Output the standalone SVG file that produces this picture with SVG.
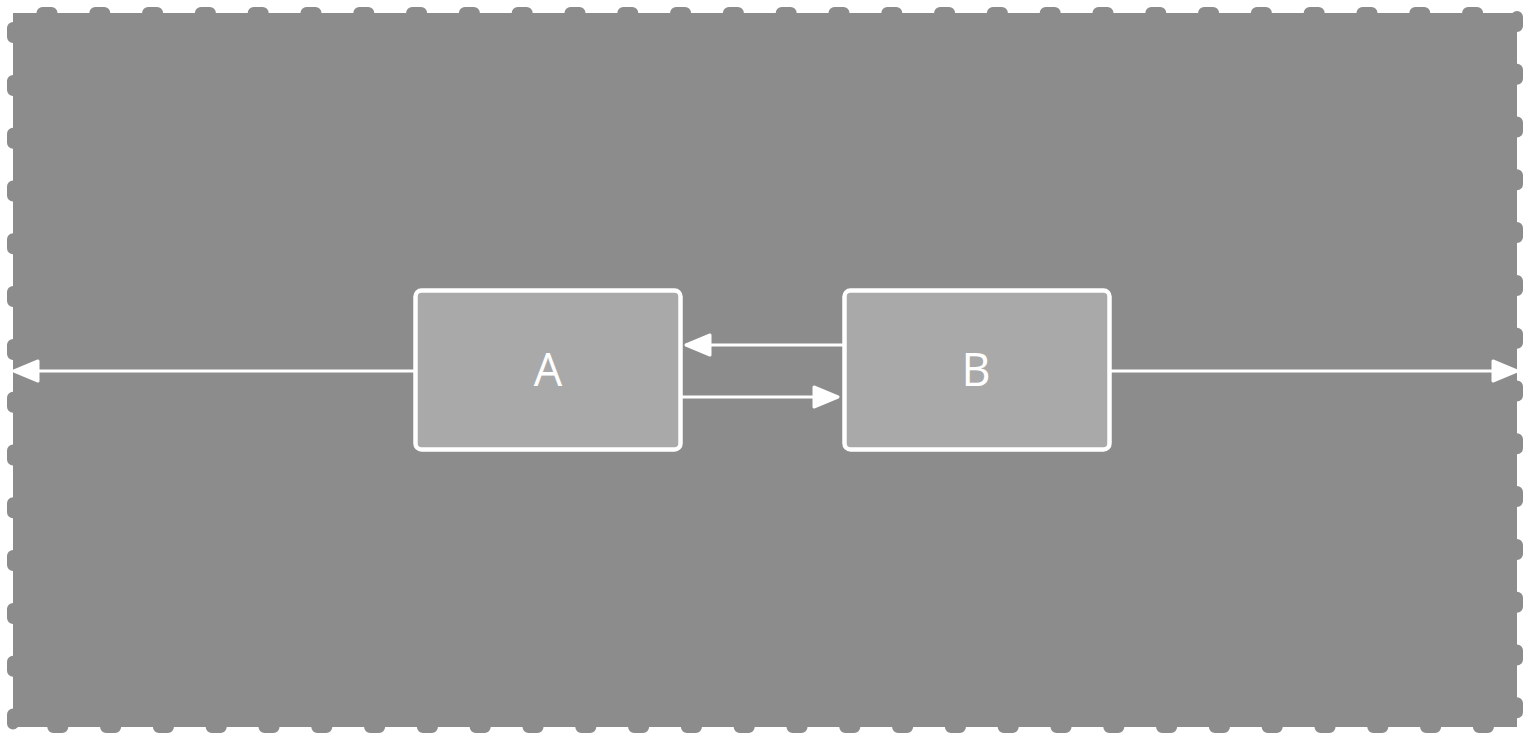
<svg xmlns="http://www.w3.org/2000/svg" width="1530" height="739" viewBox="0 0 1530 739">
  <style>
    .frame { fill: #8c8c8c; stroke: #8c8c8c; stroke-width: 12; stroke-dasharray: 9 43.8; stroke-dashoffset: 23.3; stroke-linecap: round; stroke-linejoin: round; }
    .node rect { fill: #a9a9a9; stroke: #ffffff; stroke-width: 4.5; }
    .node text { fill: #ffffff; font-family: "Open Sans", "Liberation Sans", sans-serif; font-size: 45px; font-weight: 500; text-anchor: middle; }
    .edge { stroke: #ffffff; stroke-width: 3; fill: none; marker-end: url(#arrow); }
    .head { fill: #ffffff; stroke: #ffffff; stroke-width: 3; stroke-linejoin: round; }
  </style>
  <defs>
    <marker id="arrow" markerUnits="userSpaceOnUse" viewBox="0 0 28 24" refX="26" refY="12" markerWidth="28" markerHeight="24" orient="auto" overflow="visible">
      <path class="head" d="M2,2 L26,12 L2,22 Z"/>
    </marker>
  </defs>
  <rect width="1530" height="739" fill="#ffffff"/>
  <rect class="frame" x="13" y="13" width="1504" height="714"/>
  <g id="connectors">
    <line class="edge" x1="415" y1="371" x2="14" y2="371"/>
    <line class="edge" x1="1110" y1="371" x2="1517" y2="371"/>
    <line class="edge" x1="845" y1="345" x2="686" y2="345"/>
    <line class="edge" x1="680" y1="397" x2="838" y2="397"/>
  </g>
  <g id="node-A" class="node">
    <rect x="415.5" y="290.5" width="265" height="159" rx="6"/>
    <text x="548" y="386">A</text>
  </g>
  <g id="node-B" class="node">
    <rect x="844.5" y="290.5" width="265" height="159" rx="6"/>
    <text x="976" y="386">B</text>
  </g>
</svg>
